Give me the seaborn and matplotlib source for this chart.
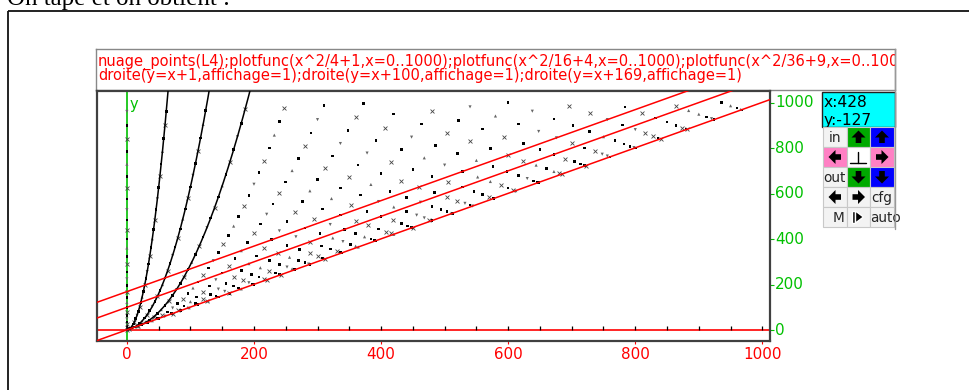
import numpy as np
import pandas as pd
import matplotlib
matplotlib.use("Agg")
import matplotlib.pyplot as plt
import matplotlib.patches as mpatches
import seaborn as sns

l4_x = [
    0, 0, 0, 0, 0, 0, 0, 0, 0, 0, 0, 0, 0, 0, 0, 0, 0, 0, 0, 0, 0, 0, 0, 0, 0, 0, 0, 0, 0, 0, 0, 0,
    2, 4, 6, 8, 10, 12, 14, 16, 18, 20, 22, 24, 26, 28, 30, 32, 34, 36, 38, 40, 42, 44, 46, 48, 50, 52, 54, 56, 58, 60, 62,
    8, 12, 16, 20, 24, 28, 32, 36, 40, 44, 48, 52, 56, 60, 64, 68, 72, 76, 80, 84, 88, 92, 96, 100, 104, 108, 112, 116, 120, 124,
    18, 24, 30, 36, 42, 48, 54, 60, 66, 72, 78, 84, 90, 96, 102, 108, 114, 120, 126, 132, 138, 144, 150, 156, 162, 168, 174, 180, 186,
    32, 40, 48, 56, 64, 72, 80, 88, 96, 104, 112, 120, 128, 136, 144, 152, 160, 168, 176, 184, 192, 200, 208, 216, 224, 232, 240, 248,
    50, 60, 70, 80, 90, 100, 110, 120, 130, 140, 150, 160, 170, 180, 190, 200, 210, 220, 230, 240, 250, 260, 270, 280, 290, 300, 310,
    72, 84, 96, 108, 120, 132, 144, 156, 168, 180, 192, 204, 216, 228, 240, 252, 264, 276, 288, 300, 312, 324, 336, 348, 360, 372,
    98, 112, 126, 140, 154, 168, 182, 196, 210, 224, 238, 252, 266, 280, 294, 308, 322, 336, 350, 364, 378, 392, 406, 420,
    128, 144, 160, 176, 192, 208, 224, 240, 256, 272, 288, 304, 320, 336, 352, 368, 384, 400, 416, 432, 448, 464, 480,
    162, 180, 198, 216, 234, 252, 270, 288, 306, 324, 342, 360, 378, 396, 414, 432, 450, 468, 486, 504, 522, 540,
    200, 220, 240, 260, 280, 300, 320, 340, 360, 380, 400, 420, 440, 460, 480, 500, 520, 540, 560, 580, 600,
    242, 264, 286, 308, 330, 352, 374, 396, 418, 440, 462, 484, 506, 528, 550, 572, 594, 616, 638,
    288, 312, 336, 360, 384, 408, 432, 456, 480, 504, 528, 552, 576, 600, 624, 648, 672, 696,
    338, 364, 390, 416, 442, 468, 494, 520, 546, 572, 598, 624, 650, 676, 702, 728,
    392, 420, 448, 476, 504, 532, 560, 588, 616, 644, 672, 700, 728, 756, 784,
    450, 480, 510, 540, 570, 600, 630, 660, 690, 720, 750, 780, 810,
    512, 544, 576, 608, 640, 672, 704, 736, 768, 800, 832, 864,
    578, 612, 646, 680, 714, 748, 782, 816, 850, 884,
    648, 684, 720, 756, 792, 828, 864, 900, 936,
    722, 760, 798, 836, 874, 912, 950,
    800, 840, 880, 920, 960,
    882, 924, 966,
    968,
]
l4_y = [
    0, 1, 4, 9, 16, 25, 36, 49, 64, 81, 100, 121, 144, 169, 196, 225, 256, 289, 324, 361, 400, 441, 484, 529, 576, 625, 676, 729, 784, 841, 900, 961,
    2, 5, 10, 17, 26, 37, 50, 65, 82, 101, 122, 145, 170, 197, 226, 257, 290, 325, 362, 401, 442, 485, 530, 577, 626, 677, 730, 785, 842, 901, 962,
    8, 13, 20, 29, 40, 53, 68, 85, 104, 125, 148, 173, 200, 229, 260, 293, 328, 365, 404, 445, 488, 533, 580, 629, 680, 733, 788, 845, 904, 965,
    18, 25, 34, 45, 58, 73, 90, 109, 130, 153, 178, 205, 234, 265, 298, 333, 370, 409, 450, 493, 538, 585, 634, 685, 738, 793, 850, 909, 970,
    32, 41, 52, 65, 80, 97, 116, 137, 160, 185, 212, 241, 272, 305, 340, 377, 416, 457, 500, 545, 592, 641, 692, 745, 800, 857, 916, 977,
    50, 61, 74, 89, 106, 125, 146, 169, 194, 221, 250, 281, 314, 349, 386, 425, 466, 509, 554, 601, 650, 701, 754, 809, 866, 925, 986,
    72, 85, 100, 117, 136, 157, 180, 205, 232, 261, 292, 325, 360, 397, 436, 477, 520, 565, 612, 661, 712, 765, 820, 877, 936, 997,
    98, 113, 130, 149, 170, 193, 218, 245, 274, 305, 338, 373, 410, 449, 490, 533, 578, 625, 674, 725, 778, 833, 890, 949,
    128, 145, 164, 185, 208, 233, 260, 289, 320, 353, 388, 425, 464, 505, 548, 593, 640, 689, 740, 793, 848, 905, 964,
    162, 181, 202, 225, 250, 277, 306, 337, 370, 405, 442, 481, 522, 565, 610, 657, 706, 757, 810, 865, 922, 981,
    200, 221, 244, 269, 296, 325, 356, 389, 424, 461, 500, 541, 584, 629, 676, 725, 776, 829, 884, 941, 1000,
    242, 265, 290, 317, 346, 377, 410, 445, 482, 521, 562, 605, 650, 697, 746, 797, 850, 905, 962,
    288, 313, 340, 369, 400, 433, 468, 505, 544, 585, 628, 673, 720, 769, 820, 873, 928, 985,
    338, 365, 394, 425, 458, 493, 530, 569, 610, 653, 698, 745, 794, 845, 898, 953,
    392, 421, 452, 485, 520, 557, 596, 637, 680, 725, 772, 821, 872, 925, 980,
    450, 481, 514, 549, 586, 625, 666, 709, 754, 801, 850, 901, 954,
    512, 545, 580, 617, 656, 697, 740, 785, 832, 881, 932, 985,
    578, 613, 650, 689, 730, 773, 818, 865, 914, 965,
    648, 685, 724, 765, 808, 853, 900, 949, 1000,
    722, 761, 802, 845, 890, 937, 986,
    800, 841, 884, 929, 976,
    882, 925, 970,
    968,
]
curve_div = [4, 16, 36]          # plotfunc(x^2/d + a, x=0..1000)
curve_add = [1, 4, 9]
curve_range = [0, 1000]
line_intercepts = [1, 100, 169]  # droite(y = x + b)
x_tick_values = [0, 200, 400, 600, 800, 1000]
y_tick_values = [0, 200, 400, 600, 800, 1000]
axis_minor_ticks = list(range(0, 1001, 50))
x_limits = [-47, 1012]
y_limits = [-48, 1053]

intro_text = "On tape et on obtient :"
cmd_line1 = ("nuage_points(L4);plotfunc(x^2/4+1,x=0..1000);plotfunc(x^2/16+4,x=0..1000);"
             "plotfunc(x^2/36+9,x=0..1000);")
cmd_line2 = "droite(y=x+1,affichage=1);droite(y=x+100,affichage=1);droite(y=x+169,affichage=1)"
coord_text = ["x:428", "y:-127"]

# ---------------- style ----------------
sns.set_theme(style="white")
plt.rcParams["font.family"] = ["DejaVu Sans"]
plt.rcParams["xtick.bottom"] = True
plt.rcParams["ytick.right"] = True
RED = "#ff0000"
GREEN = "#00c000"

W, H = 970, 390
fig = plt.figure(figsize=(W / 100, H / 100), dpi=100)
fig.patch.set_facecolor("white")


def frac(x0, y0, x1, y1):
    return [x0 / W, 1 - y1 / H, (x1 - x0) / W, (y1 - y0) / H]


# overlay in pixel coordinates for the surrounding window decorations
ov = fig.add_axes([0, 0, 1, 1], zorder=0)
ov.set_xlim(0, W)
ov.set_ylim(H, 0)
ov.axis("off")

ov.text(7, 5.5, intro_text, family=["Liberation Serif", "DejaVu Serif"], fontsize=18,
        va="baseline", ha="left", color="black")
ov.plot([8.5, 8.5], [11, H + 5], color="#111111", lw=1.3, solid_capstyle="butt")
ov.plot([8.5, W + 5], [11, 11], color="#111111", lw=1.3, solid_capstyle="butt")

# ---------------- command text box ----------------
tb = fig.add_axes(frac(96, 49, 895, 90), zorder=2)
tb.set_xlim(0, 799)
tb.set_ylim(41, 0)
tb.set_xticks([])
tb.set_yticks([])
tb.set_facecolor("white")
for s in tb.spines.values():
    s.set_color("#888888")
    s.set_linewidth(1.0)
tb.text(2, 17, cmd_line1, color=RED, fontsize=10.5, va="baseline", ha="left", clip_on=True)
tb.text(2, 31, cmd_line2, color=RED, fontsize=10.5, va="baseline", ha="left", clip_on=True)

# ---------------- main plot ----------------
ax = fig.add_axes(frac(97, 90.5, 770, 341), zorder=3)
ax.set_facecolor("white")
ax.set_xlim(*x_limits)
ax.set_ylim(*y_limits)

# Xcas axes through the origin (red x axis with black ticks, green y axis)
px_per_unit_y = 250.5 / (y_limits[1] - y_limits[0])
tick_h = 4.0 / px_per_unit_y
ax.axhline(0, color=RED, lw=1.2, zorder=2)
ax.axvline(0, color=GREEN, lw=1.2, zorder=2)
ax.vlines(axis_minor_ticks, 0, tick_h, colors="black", lw=0.9, zorder=2.5)

df = pd.DataFrame({"x": l4_x, "y": l4_y})
marker_cycle = ["s", "x", "s", "^", "s", "x", "s", "v"]
df["mk"] = [marker_cycle[i % len(marker_cycle)] for i in range(len(df))]

sub = df[df["mk"] == "s"]
sns.scatterplot(data=sub, x="x", y="y", marker="s", s=3.5, color="black",
                edgecolor="none", linewidth=0, ax=ax, legend=False, zorder=3)
sub = df[df["mk"] == "x"]
sns.scatterplot(data=sub, x="x", y="y", marker="x", s=8, color="#444444",
                linewidth=0.6, ax=ax, legend=False, zorder=3)
for mk in ["^", "v"]:
    sub = df[df["mk"] == mk]
    sns.scatterplot(data=sub, x="x", y="y", marker=mk, s=5, color="#666666",
                    edgecolor="none", linewidth=0, ax=ax, legend=False, zorder=3)

xs = np.linspace(curve_range[0], curve_range[1], 4001)
for d, a in zip(curve_div, curve_add):
    sns.lineplot(x=xs, y=xs ** 2 / d + a, color="black", lw=1.1, ax=ax,
                 estimator=None, sort=False, zorder=4)

lx = np.array(ax.get_xlim())
for b in line_intercepts:
    sns.lineplot(x=lx, y=lx + b, color=RED, lw=1.1, ax=ax, estimator=None, zorder=5)

ax.set_xlim(*x_limits)
ax.set_ylim(*y_limits)
ax.set_xlabel("")
ax.set_ylabel("")

# frame
for s in ax.spines.values():
    s.set_color("#404040")
    s.set_linewidth(1.6)
    s.set_visible(True)

# bottom (red) tick labels, right (green) tick labels
ax.set_xticks(x_tick_values)
ax.set_xticklabels([str(v) for v in x_tick_values])
ax.tick_params(axis="x", colors=RED, labelcolor=RED, length=2.5, width=0.8,
               direction="out", pad=1.5, labelsize=10.9, bottom=True, top=False)
ax.yaxis.tick_right()
ax.set_yticks(y_tick_values)
ax.set_yticklabels([str(v) for v in y_tick_values])
ax.tick_params(axis="y", colors=GREEN, labelcolor=GREEN, length=3, width=0.8,
               direction="out", pad=0.5, labelsize=10.9, right=True, left=False)
for lab in ax.get_yticklabels():
    lab.set_verticalalignment("center")

ax.text(0.049, 0.945, "y", transform=ax.transAxes, color=GREEN, fontsize=10.5,
        ha="left", va="center")

# ---------------- control panel ----------------
pn = fig.add_axes([0, 0, 1, 1], zorder=4)
pn.set_xlim(0, W)
pn.set_ylim(H, 0)
pn.axis("off")
pn.patch.set_alpha(0)

pn.add_patch(mpatches.Rectangle((822, 92), 73, 35, facecolor="#00ffff",
                                edgecolor="#222222", lw=1.0, zorder=1))
pn.text(824, 107, coord_text[0], fontsize=11.2, color="black", va="baseline", zorder=2)
pn.text(824, 125, coord_text[1], fontsize=11.2, color="black", va="baseline", zorder=2)

col_x = [823, 847, 870, 894]
row_y = [127, 147, 167, 187, 207, 227]
GRN, BLU, PNK, LG = "#00aa00", "#0000ff", "#ff80c4", "#f3f3f3"
cell_colors = [
    [LG, GRN, BLU],
    [PNK, "#ffffff", PNK],
    [LG, GRN, BLU],
    [LG, LG, LG],
    [LG, LG, LG],
]
for r in range(5):
    for c in range(3):
        pn.add_patch(mpatches.Rectangle((col_x[c], row_y[r]), col_x[c + 1] - col_x[c],
                                        row_y[r + 1] - row_y[r], facecolor=cell_colors[r][c],
                                        edgecolor="#c8c8c8", lw=0.8, zorder=3))


def block_arrow(cx, cy, direction):
    base = np.array([(0, -6.5), (7, 0.5), (2.8, 0.5), (2.8, 6), (-2.8, 6),
                     (-2.8, 0.5), (-7, 0.5)])
    ang = {"up": 0, "right": 90, "down": 180, "left": 270}[direction]
    t = np.deg2rad(ang)
    rot = np.array([[np.cos(t), -np.sin(t)], [np.sin(t), np.cos(t)]])
    pts = base @ rot.T + np.array([cx, cy])
    pn.add_patch(mpatches.Polygon(pts, closed=True, facecolor="black",
                                  edgecolor="none", zorder=5))


def cell_center(r, c):
    return ((col_x[c] + col_x[c + 1]) / 2, (row_y[r] + row_y[r + 1]) / 2)


block_arrow(*cell_center(0, 1), "up")
block_arrow(*cell_center(0, 2), "up")
block_arrow(*cell_center(1, 0), "left")
block_arrow(*cell_center(1, 2), "right")
block_arrow(*cell_center(2, 1), "down")
block_arrow(*cell_center(2, 2), "down")
block_arrow(*cell_center(3, 0), "left")
block_arrow(*cell_center(3, 1), "right")

fs_btn = 9.8
pn.text(cell_center(0, 0)[0], row_y[0] + 15, "in", fontsize=fs_btn, ha="center",
        va="baseline", zorder=6)
pn.text(col_x[0], row_y[2] + 15, "out", fontsize=fs_btn, ha="left", va="baseline",
        zorder=6, clip_on=False)
pn.text(col_x[2] + 1, row_y[3] + 15, "cfg", fontsize=fs_btn, ha="left", va="baseline",
        zorder=6)
pn.text(col_x[1] - 3, row_y[4] + 15, "M", fontsize=fs_btn, ha="right", va="baseline",
        zorder=6)
pn.text(col_x[2] + 0.5, row_y[4] + 15, "auto", fontsize=fs_btn, ha="left", va="baseline",
        zorder=6)
# "_|_" symbol
cx, cy = cell_center(1, 1)
pn.plot([cx - 8, cx + 8], [cy + 6, cy + 6], color="black", lw=1.0, zorder=6)
pn.plot([cx, cx], [cy - 5, cy + 6], color="black", lw=1.0, zorder=6)
# bar + play triangle
cx, cy = cell_center(4, 1)
pn.add_patch(mpatches.Rectangle((cx - 6, cy - 6), 3, 12, facecolor="black", zorder=6))
pn.add_patch(mpatches.Polygon([(cx - 3, cy - 6), (cx + 5, cy), (cx - 3, cy + 6)],
                              closed=True, facecolor="black", zorder=6))
# right border line of the widget
pn.plot([895, 895], [49, 229], color="#999999", lw=1.0, zorder=7)

fig.savefig("out.png", dpi=100, facecolor="white")
